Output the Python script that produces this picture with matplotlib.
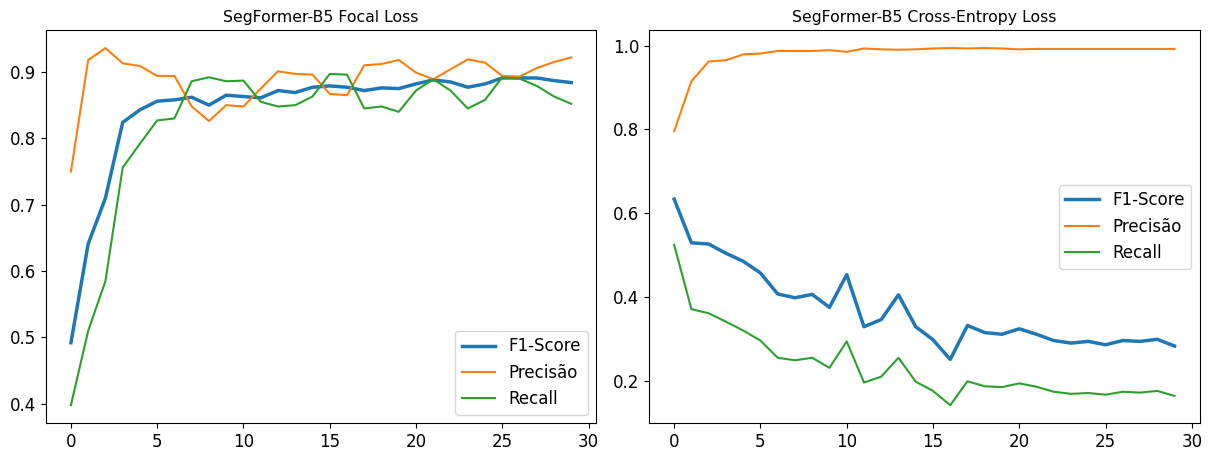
""" SegFormer-B5 metrics """
import matplotlib
matplotlib.use("Agg")
import matplotlib.pyplot as plt

epochs = list(range(30))

# Focal loss run
focal_f1 = [0.492, 0.641, 0.710, 0.824, 0.843, 0.856, 0.858, 0.862, 0.850, 0.865,
            0.863, 0.861, 0.872, 0.869, 0.877, 0.879, 0.877, 0.872, 0.876, 0.875,
            0.882, 0.888, 0.885, 0.877, 0.882, 0.891, 0.891, 0.891, 0.887, 0.884]
focal_prec = [0.750, 0.918, 0.936, 0.913, 0.909, 0.894, 0.894, 0.848, 0.826, 0.850,
              0.848, 0.875, 0.901, 0.897, 0.896, 0.867, 0.865, 0.910, 0.912, 0.918,
              0.899, 0.889, 0.904, 0.919, 0.914, 0.894, 0.893, 0.906, 0.915, 0.922]
focal_rec = [0.398, 0.510, 0.585, 0.756, 0.792, 0.827, 0.830, 0.886, 0.892, 0.886,
             0.887, 0.855, 0.848, 0.850, 0.863, 0.897, 0.896, 0.845, 0.848, 0.840,
             0.872, 0.889, 0.872, 0.845, 0.858, 0.892, 0.890, 0.879, 0.863, 0.852]

# Cross-entropy run
ce_f1 = [0.634, 0.530, 0.527, 0.505, 0.486, 0.458, 0.408, 0.399, 0.407, 0.376,
         0.454, 0.330, 0.347, 0.406, 0.330, 0.299, 0.252, 0.333, 0.316, 0.312,
         0.325, 0.312, 0.297, 0.291, 0.295, 0.287, 0.297, 0.295, 0.300, 0.284]
ce_prec = [0.796, 0.915, 0.962, 0.965, 0.979, 0.981, 0.987, 0.987, 0.987, 0.989,
           0.985, 0.993, 0.991, 0.990, 0.991, 0.993, 0.994, 0.993, 0.994, 0.993,
           0.991, 0.992, 0.992, 0.992, 0.992, 0.992, 0.992, 0.992, 0.992, 0.992]
ce_rec = [0.525, 0.372, 0.362, 0.342, 0.321, 0.297, 0.256, 0.250, 0.256, 0.232,
          0.295, 0.197, 0.211, 0.256, 0.199, 0.177, 0.143, 0.200, 0.188, 0.186,
          0.195, 0.187, 0.175, 0.170, 0.172, 0.168, 0.175, 0.173, 0.177, 0.165]


def draw(ax, f1, prec, rec, title, loc):
    """ one panel """
    ax.plot(epochs, f1, color="#1f77b4", linewidth=2.5, label="F1-Score")
    ax.plot(epochs, prec, color="#ff7f0e", linewidth=1.5, label="Precisão")
    ax.plot(epochs, rec, color="#2ca02c", linewidth=1.5, label="Recall")
    ax.set_title(title, fontsize=11.3)
    ax.tick_params(labelsize=12)
    ax.legend(loc=loc, fontsize=12)


def main():
    """ function """
    fig, (ax1, ax2) = plt.subplots(1, 2, figsize=(12.08, 4.51), dpi=100)
    draw(ax1, focal_f1, focal_prec, focal_rec, "SegFormer-B5 Focal Loss", "lower right")
    draw(ax2, ce_f1, ce_prec, ce_rec, "SegFormer-B5 Cross-Entropy Loss", "center right")
    fig.subplots_adjust(left=0.038, right=0.993, top=0.933, bottom=0.062, wspace=0.096)
    fig.savefig("out.png")


main()
